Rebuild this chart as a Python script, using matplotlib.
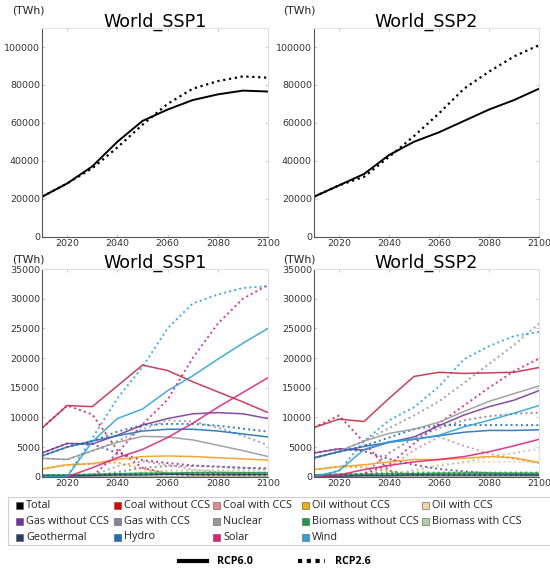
import matplotlib
matplotlib.use("Agg")
import matplotlib.pyplot as plt
from matplotlib.lines import Line2D
from matplotlib.patches import Rectangle

YEARS = [2010, 2020, 2030, 2040, 2050, 2060, 2070, 2080, 2090, 2100]

# Total electricity generation (TWh)
SSP1_TOTAL_RCP60 = [21000, 28000, 37000, 50000, 61000, 67000, 72000, 75000, 77000, 76500]
SSP1_TOTAL_RCP26 = [21000, 28000, 36000, 47000, 59000, 70000, 78000, 82000, 84500, 83800]
SSP2_TOTAL_RCP60 = [21000, 27000, 33000, 43000, 50000, 55000, 61000, 67000, 72000, 78000]
SSP2_TOTAL_RCP26 = [21000, 27000, 31500, 42000, 53000, 65000, 78000, 87000, 95000, 101000]

TECHS = ["Coal without CCS", "Coal with CCS", "Oil without CCS", "Oil with CCS",
         "Gas without CCS", "Gas with CCS", "Nuclear", "Biomass without CCS",
         "Biomass with CCS", "Geothermal", "Hydro", "Solar", "Wind"]

COLORS = {
    "Total": "#000000",
    "Coal without CCS": "#c42a48",
    "Coal with CCS": "#d9909c",
    "Oil without CCS": "#f0a020",
    "Oil with CCS": "#f3d3a0",
    "Gas without CCS": "#7a3a9a",
    "Gas with CCS": "#8c7f9c",
    "Nuclear": "#999999",
    "Biomass without CCS": "#1f9a48",
    "Biomass with CCS": "#a8d4a0",
    "Geothermal": "#2a3d6b",
    "Hydro": "#1f6fb8",
    "Solar": "#e0207f",
    "Wind": "#2ca3dc",
}
LEGEND_COLORS = dict(COLORS, **{"Coal without CCS": "#e00000", "Coal with CCS": "#e88a8a",
                                "Oil without CCS": "#f0b000", "Gas without CCS": "#7030a0"})

# Generation by source (TWh), one dict per SSP / RCP
SSP1_RCP60 = {
    "Coal without CCS": [8200, 12000, 11800, 15300, 18800, 17900, 16000, 14300, 12600, 10800],
    "Coal with CCS": [0, 0, 0, 0, 0, 0, 0, 0, 0, 0],
    "Oil without CCS": [1300, 2000, 2200, 2900, 3400, 3500, 3400, 3200, 3000, 2800],
    "Oil with CCS": [0, 0, 0, 0, 0, 0, 0, 0, 0, 0],
    "Gas without CCS": [4000, 5600, 5500, 7000, 8700, 9800, 10600, 10800, 10600, 9800],
    "Gas with CCS": [0, 0, 0, 0, 0, 0, 0, 0, 0, 0],
    "Nuclear": [3100, 2900, 4400, 5800, 6800, 6700, 6200, 5300, 4400, 3400],
    "Biomass without CCS": [300, 300, 400, 500, 600, 600, 700, 700, 700, 700],
    "Biomass with CCS": [0, 0, 0, 0, 0, 0, 0, 0, 0, 0],
    "Geothermal": [100, 100, 200, 300, 300, 400, 400, 400, 400, 400],
    "Hydro": [3500, 5000, 6000, 6900, 7700, 8000, 8000, 7700, 7200, 6700],
    "Solar": [0, 0, 1500, 3200, 4600, 6600, 9000, 11700, 14200, 16700],
    "Wind": [0, 0, 5900, 9800, 11400, 14500, 17000, 19800, 22500, 25000],
}
SSP1_RCP26 = {
    "Coal without CCS": [8200, 12000, 10500, 4500, 1500, 500, 300, 200, 100, 50],
    "Coal with CCS": [0, 0, 200, 1800, 2600, 2000, 1200, 800, 500, 300],
    "Oil without CCS": [1300, 2000, 2200, 2400, 1300, 600, 300, 150, 100, 50],
    "Oil with CCS": [0, 0, 0, 200, 500, 700, 800, 800, 700, 600],
    "Gas without CCS": [4000, 5600, 5500, 4000, 2800, 2300, 1900, 1700, 1500, 1400],
    "Gas with CCS": [0, 0, 100, 800, 1500, 1800, 1800, 1700, 1500, 1300],
    "Nuclear": [3100, 2900, 4300, 6000, 8000, 9500, 9300, 8300, 6900, 5300],
    "Biomass without CCS": [300, 300, 400, 500, 500, 500, 400, 400, 300, 300],
    "Biomass with CCS": [0, 0, 0, 300, 700, 1000, 1100, 1100, 1100, 1100],
    "Geothermal": [100, 100, 200, 300, 400, 400, 400, 400, 400, 400],
    "Hydro": [3500, 5000, 6000, 7600, 8700, 8900, 8900, 8600, 8100, 7600],
    "Solar": [0, 0, 0, 4000, 8800, 13000, 20000, 25800, 30000, 32300],
    "Wind": [0, 0, 6500, 13200, 18500, 25000, 29200, 30700, 31800, 32100],
}
SSP2_RCP60 = {
    "Coal without CCS": [8300, 9700, 9300, 13200, 16900, 17600, 17400, 17500, 17600, 18400],
    "Coal with CCS": [0, 0, 0, 0, 0, 0, 0, 0, 0, 0],
    "Oil without CCS": [1200, 1700, 2000, 2500, 2900, 2900, 3100, 3400, 3200, 2400],
    "Oil with CCS": [0, 0, 0, 0, 0, 0, 0, 0, 0, 0],
    "Gas without CCS": [4000, 4700, 4500, 5800, 6700, 8600, 10400, 11800, 12900, 14500],
    "Gas with CCS": [0, 0, 0, 0, 0, 0, 0, 0, 0, 0],
    "Nuclear": [3100, 4300, 6000, 7300, 8000, 9200, 11000, 12700, 14000, 15300],
    "Biomass without CCS": [300, 400, 400, 500, 500, 600, 600, 600, 600, 600],
    "Biomass with CCS": [0, 0, 0, 0, 0, 0, 0, 0, 0, 0],
    "Geothermal": [100, 100, 200, 200, 300, 300, 300, 300, 300, 300],
    "Hydro": [3200, 4200, 5100, 5800, 6300, 6900, 7500, 7800, 7800, 7900],
    "Solar": [0, 300, 1200, 1900, 2500, 2900, 3400, 4200, 5200, 6300],
    "Wind": [0, 1000, 4600, 5900, 6300, 7000, 8400, 9500, 10700, 12000],
}
SSP2_RCP26 = {
    "Coal without CCS": [8300, 10300, 5800, 1000, 300, 100, 50, 0, 0, 0],
    "Coal with CCS": [0, 0, 100, 1500, 4500, 6700, 5200, 3900, 3000, 2300],
    "Oil without CCS": [1200, 1700, 1600, 900, 400, 200, 100, 50, 0, 0],
    "Oil with CCS": [0, 0, 0, 300, 1200, 2000, 2400, 2500, 2500, 2500],
    "Gas without CCS": [4000, 4700, 4300, 3000, 2000, 1300, 900, 600, 400, 300],
    "Gas with CCS": [0, 0, 500, 4000, 6500, 8200, 9500, 10200, 10600, 10800],
    "Nuclear": [3100, 4300, 6000, 8200, 10300, 12700, 15800, 19000, 22200, 25800],
    "Biomass without CCS": [300, 400, 500, 600, 700, 700, 700, 700, 700, 700],
    "Biomass with CCS": [0, 0, 0, 300, 1000, 1800, 2500, 3300, 4000, 4700],
    "Geothermal": [100, 100, 200, 300, 300, 300, 300, 300, 300, 300],
    "Hydro": [3200, 4200, 5200, 6600, 8000, 8700, 8700, 8700, 8700, 8700],
    "Solar": [0, 100, 500, 2000, 5600, 9000, 12000, 15000, 17800, 19900],
    "Wind": [0, 1000, 6000, 9500, 11700, 15200, 19800, 22000, 23700, 24400],
}

# legend grid, laid out row by row
LEGEND_ROWS = [
    ["Total", "Coal without CCS", "Coal with CCS", "Oil without CCS", "Oil with CCS"],
    ["Gas without CCS", "Gas with CCS", "Nuclear", "Biomass without CCS", "Biomass with CCS"],
    ["Geothermal", "Hydro", "Solar", "Wind"],
]

TICK_FONT = 6.8
LEGEND_FONT = ["Open Sans", "DejaVu Sans"]
W, H = 550, 568


def style_axes(ax, ymax, ystep, title):
    ax.set_xlim(2010, 2100)
    ax.set_ylim(0, ymax)
    ax.set_xticks([2020, 2040, 2060, 2080, 2100])
    ax.set_yticks(range(0, ymax + 1, ystep))
    ax.tick_params(labelsize=TICK_FONT, labelcolor="#333333", direction="in",
                   length=2, color="#cccccc", pad=1.5, top=True, right=True)
    for side in ("top", "right"):
        ax.spines[side].set_color("#e0e0e0")
    for side in ("left", "bottom"):
        ax.spines[side].set_color("#555555")
    ax.set_title(title, fontsize=12.6, pad=1)


fig = plt.figure(figsize=(W / 100, H / 100), dpi=100)

top_pos = [(0.0764, 0.5836, 0.411, 0.367), (0.571, 0.5836, 0.409, 0.367)]
bot_pos = [(0.0764, 0.1607, 0.411, 0.3657), (0.571, 0.1607, 0.409, 0.3657)]

totals = [("World_SSP1", SSP1_TOTAL_RCP60, SSP1_TOTAL_RCP26),
          ("World_SSP2", SSP2_TOTAL_RCP60, SSP2_TOTAL_RCP26)]
for pos, (title, r60, r26) in zip(top_pos, totals):
    ax = fig.add_axes(pos)
    ax.plot(YEARS, r60, color="black", lw=1.4)
    ax.plot(YEARS, r26, color="black", lw=1.6, ls=":")
    style_axes(ax, 110000, 20000, title)
    ax.set_yticks(range(0, 100001, 20000))

mixes = [("World_SSP1", SSP1_RCP60, SSP1_RCP26),
         ("World_SSP2", SSP2_RCP60, SSP2_RCP26)]
for pos, (title, r60, r26) in zip(bot_pos, mixes):
    ax = fig.add_axes(pos)
    for tech in TECHS:
        ax.plot(YEARS, r26[tech], color=COLORS[tech], lw=1.4, ls=":", alpha=0.9)
    for tech in TECHS:
        ax.plot(YEARS, r60[tech], color=COLORS[tech], lw=1.1, alpha=0.9)
    style_axes(ax, 35000, 5000, title)

# unit labels above each panel
for x, y in [(0.022, 0.981), (0.5145, 0.981), (0.022, 0.544), (0.5145, 0.544)]:
    fig.text(x, y, "(TWh)", fontsize=7.8, va="center", ha="left", color="#222222")

# source legend: framed box with fixed column positions (pixels)
col_x = [16, 114, 213, 302, 422]
row_y = [505, 521, 537]
fig.add_artist(Rectangle((8 / W, 1 - 545 / H), 544 / W, 48 / H, transform=fig.transFigure,
                         facecolor="white", edgecolor="#d0d0d0", lw=0.8))
for r, row in enumerate(LEGEND_ROWS):
    for c, name in enumerate(row):
        x0, yc = col_x[c], row_y[r]
        fig.add_artist(Rectangle((x0 / W, 1 - (yc + 3.5) / H), 7 / W, 7 / H,
                                 transform=fig.transFigure, facecolor=LEGEND_COLORS[name],
                                 edgecolor="#555555", lw=0.4))
        fig.text((x0 + 10) / W, 1 - yc / H, name, fontsize=7.8, family=LEGEND_FONT,
                 va="center", ha="left", color="#222222")

# scenario legend
sc_handles = [Line2D([], [], color="black", lw=3),
              Line2D([], [], color="black", lw=3, ls=(0, (1, 1.1)))]
fig.legend(sc_handles, ["RCP6.0", "RCP2.6"], loc="center", bbox_to_anchor=(0.5, 0.011),
           ncol=2, frameon=False, handlelength=2.6, handletextpad=0.9,
           columnspacing=4.2, borderaxespad=0,
           prop={"family": LEGEND_FONT, "size": 7.7, "weight": "bold"})

fig.savefig("out.png", dpi=100)
